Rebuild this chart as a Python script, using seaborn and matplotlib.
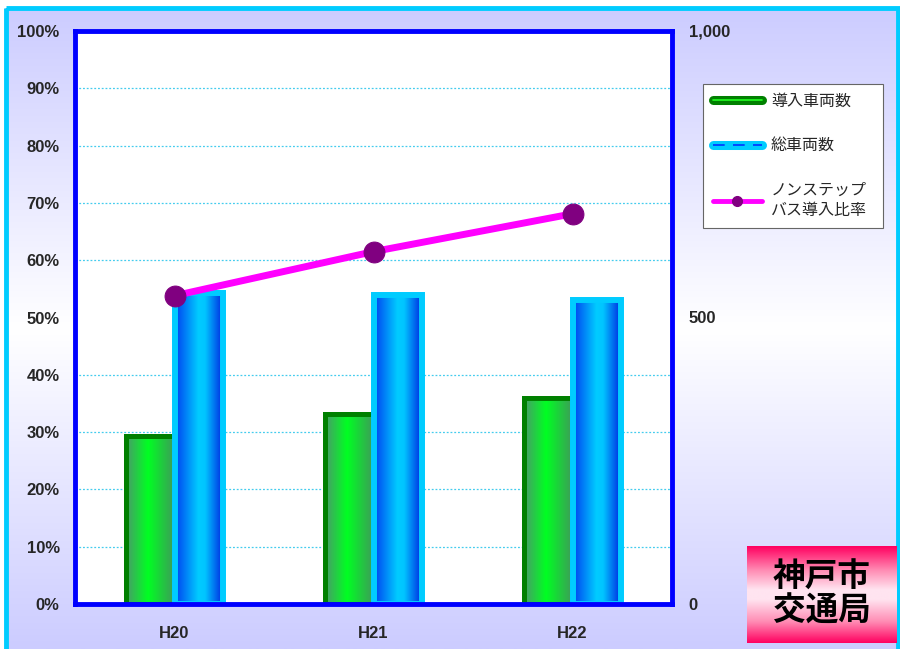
import numpy as np
import pandas as pd
import matplotlib
matplotlib.use("Agg")
import matplotlib.pyplot as plt
import seaborn as sns
from matplotlib.colors import LinearSegmentedColormap
from matplotlib.lines import Line2D
from matplotlib.patches import Rectangle
from matplotlib.legend_handler import HandlerTuple
from matplotlib.ticker import MultipleLocator

# ─────────────────────────────────────────────
# DATA
# ─────────────────────────────────────────────
years = ["H20", "H21", "H22"]
introduced = [294, 332, 360]      # 導入車両数
total = [543, 539, 531]           # 総車両数
ratio = [53.8, 61.5, 68.1]        # ノンステップバス導入比率 (%)

series_names = ["導入車両数", "総車両数"]
line_name = "ノンステップ\nバス導入比率"
pct_ticks = list(range(0, 101, 10))
count_ticks = [0, 500, 1000]
count_labels = ["0", "500", "1,000"]

sns.set_style("white")
plt.rcParams["font.family"] = ["Liberation Sans", "Noto Sans CJK JP", "DejaVu Sans"]

W, H = 900, 649
fig = plt.figure(figsize=(W / 100, H / 100), dpi=100, facecolor="white")

# background: lavender vertical gradient inside a cyan frame
bg = fig.add_axes([0, 0, 1, 1], zorder=-10)
bg.set_xlim(0, W)
bg.set_ylim(H, 0)
bg.axis("off")
lav = LinearSegmentedColormap.from_list(
    "lav", [(0, "#CCCCFF"), (0.5, "#FFFFFF"), (1, "#CCCCFF")])
bg.imshow(np.linspace(0, 1, 256)[:, None], cmap=lav, extent=[5, 898, H, 8],
          aspect="auto", interpolation="bilinear")
bg.add_patch(Rectangle((5.5, 8), 892, H + 20, fill=False,
                       edgecolor="#00CCFF", lw=3.5))

# ─────────────────────────────────────────────
# BARS
# ─────────────────────────────────────────────
ax = fig.add_axes([75 / W, 45 / H, 597 / W, 573 / H])
ax.set_facecolor("white")

df = pd.DataFrame({
    "年度": years * 2,
    "系列": [series_names[0]] * 3 + [series_names[1]] * 3,
    "台数": introduced + total,
})
sns.barplot(data=df, x="年度", y="台数", hue="系列", order=years,
            hue_order=series_names, palette=["#008000", "#00CCFF"],
            width=0.49, gap=0, saturation=1, legend=False, ax=ax)

green_cmap = LinearSegmentedColormap.from_list(
    "g", [(0, "#4A9A6A"), (0.45, "#00FF22"), (1, "#3F9A5A")])
blue_cmap = LinearSegmentedColormap.from_list(
    "b", [(0, "#0040F0"), (0.48, "#00CCFF"), (0.62, "#00C4FF"), (1, "#0020E0")])
styles = [(green_cmap, "#008000", 3.6), (blue_cmap, "#00CCFF", 4.3)]

for cont, (cmap, edge, lw) in zip(ax.containers, styles):
    for bar in cont:
        x0, w, h = bar.get_x(), bar.get_width(), bar.get_height()
        bar.set_facecolor("none")
        bar.set_edgecolor(edge)
        bar.set_linewidth(lw)
        bar.set_zorder(2)
        im = ax.imshow(np.linspace(0, 1, 256)[None, :], cmap=cmap,
                       extent=[x0, x0 + w, 0, h], aspect="auto",
                       interpolation="bilinear", zorder=1.9)
        im.set_clip_path(bar)

ax.set_xlim(-0.5, 2.5)
ax.set_ylim(0, 1000)
ax.axhline(0, color="black", lw=1, zorder=2.5)
ax.yaxis.set_minor_locator(MultipleLocator(100))
ax.grid(which="minor", axis="y", color="#44CCEE", ls=(0, (1.5, 1.5)), lw=0.9)
ax.set_axisbelow(True)
for s in ax.spines.values():
    s.set_visible(False)

# ─────────────────────────────────────────────
# LINE (percent, left axis)
# ─────────────────────────────────────────────
axl = ax.twinx()
sns.lineplot(x=np.arange(len(years)), y=ratio, ax=axl, color="#FF00FF", lw=5,
             marker="o", markersize=15, markerfacecolor="#800080",
             markeredgecolor="#800080", zorder=5)
axl.set_ylim(0, 100)
axl.set_xlim(-0.5, 2.5)
axl.set_xlabel("")
axl.set_ylabel("")
ax.set_xlabel("")
ax.set_ylabel("")

# axis ticks: percent on left, counts on right
axl.yaxis.tick_left()
ax.yaxis.tick_right()
axl.set_yticks(pct_ticks)
axl.set_yticklabels([f"{v}%" for v in pct_ticks])
ax.set_yticks(count_ticks)
ax.set_yticklabels(count_labels)
axl.tick_params(axis="y", length=0, pad=11, labelsize=12)
ax.tick_params(axis="y", which="both", length=0, pad=12, labelsize=12)
ax.tick_params(axis="x", length=0, pad=16, labelsize=12)
for t in axl.get_yticklabels() + ax.get_yticklabels() + ax.get_xticklabels():
    t.set_fontweight("bold")

for s in axl.spines.values():
    s.set_visible(True)
    s.set_color("#0000FF")
    s.set_linewidth(3.5)

# ─────────────────────────────────────────────
# LEGEND
# ─────────────────────────────────────────────
h1 = (Line2D([], [], color="#008000", lw=6.5, solid_capstyle="round"),
      Line2D([], [], color="#22FF22", lw=1.2))
h2 = (Line2D([], [], color="#00CCFF", lw=6.5, solid_capstyle="round"),
      Line2D([], [], color="#0033FF", lw=1.2, ls=(0, (7, 5))))
h3 = Line2D([], [], color="#FF00FF", lw=3.5, marker="o", ms=7,
            mfc="#800080", mec="#800080")
leg = fig.legend([h1, h2, h3], series_names + [line_name],
                 handler_map={tuple: HandlerTuple(ndivide=1)},
                 loc="upper left",
                 bbox_to_anchor=(703 / W, 1 - 224 / H, 180 / W, 140 / H),
                 mode="expand", borderaxespad=0, fontsize=11.5,
                 handlelength=3.1, handletextpad=0.55, labelspacing=1.85,
                 borderpad=0.6, fancybox=False, framealpha=1,
                 edgecolor="#666666")
leg.get_frame().set_linewidth(0.8)
for t in leg.get_texts():
    t.set_linespacing(1.45)

# ─────────────────────────────────────────────
# LOGO BOX
# ─────────────────────────────────────────────
lg = fig.add_axes([747 / W, 6 / H, 150 / W, 97 / H])
lg.axis("off")
pink = LinearSegmentedColormap.from_list(
    "pink", [(0, "#FF0060"), (0.25, "#FF8CB4"), (0.45, "#FFE4F0"),
             (0.55, "#FFE4F0"), (0.78, "#FF8CB4"), (1, "#FF0060")])
lg.imshow(np.linspace(0, 1, 256)[:, None], cmap=pink, extent=[0, 1, 0, 1],
          aspect="auto", interpolation="bilinear")
lg.set_xlim(0, 1)
lg.set_ylim(0, 1)
lg.text(0.5, 0.5, "神戸市\n交通局", ha="center", va="center", fontsize=23.5,
        fontweight="bold", linespacing=1.05, color="black",
        family=["Noto Sans CJK JP", "DejaVu Sans"])

fig.savefig("out.png", dpi=100, facecolor="white")
